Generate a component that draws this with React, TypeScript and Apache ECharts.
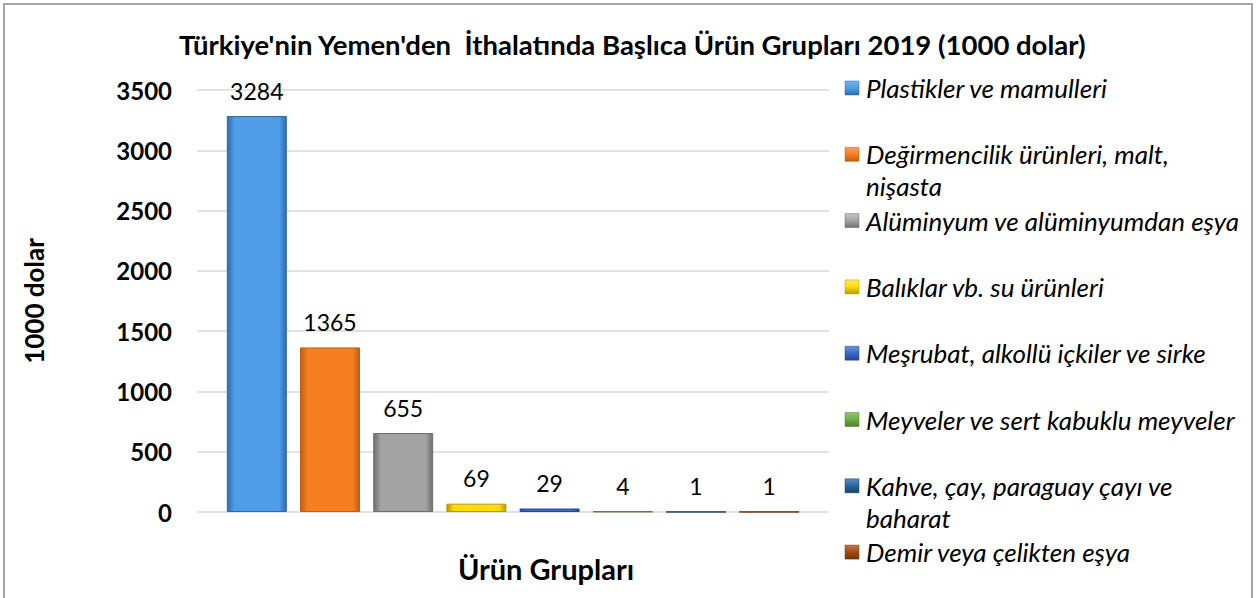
import React, { useEffect, useRef } from "react";
import * as echarts from "echarts";

const TITLE = "Türkiye'nin Yemen'den  İthalatında Başlıca Ürün Grupları 2019 (1000 dolar)";
const Y_NAME = "1000 dolar";
const X_NAME = "Ürün Grupları";
const CATEGORIES = [""];
const SERIES_NAMES = [
  "Plastikler ve mamulleri",
  "Değirmencilik ürünleri, malt, nişasta",
  "Alüminyum ve alüminyumdan eşya",
  "Balıklar vb. su ürünleri",
  "Meşrubat, alkollü içkiler ve sirke",
  "Meyveler ve sert kabuklu meyveler",
  "Kahve, çay, paraguay çayı ve baharat",
  "Demir veya çelikten eşya",
];
const VALUES = [3284, 1365, 655, 69, 29, 4, 1, 1];
const Y_TICKS = { min: 0, max: 3500, interval: 500 };

// [edge, center, light] colours per series
const COLORS = [
  ["#2f69ad", "#4f9de6", "#72b6f0"],
  ["#c25d12", "#f57f20", "#f8a060"],
  ["#6f6f6f", "#a3a3a3", "#c4c4c4"],
  ["#b89a00", "#fbdc0a", "#ffe95a"],
  ["#23479a", "#3a68c6", "#6f93d8"],
  ["#4d7f2c", "#6fae45", "#95c674"],
  ["#17416b", "#2a659c", "#5e8cbc"],
  ["#6f310a", "#a44c12", "#c2774a"],
];

const FONT = "Lato, 'Open Sans', sans-serif";

function grad(c: string[]) {
  return new echarts.graphic.LinearGradient(0, 0, 1, 0, [
    { offset: 0, color: c[0] },
    { offset: 0.12, color: c[1] },
    { offset: 0.5, color: c[1] },
    { offset: 0.88, color: c[1] },
    { offset: 1, color: c[0] },
  ]);
}

function markerGrad(c: string[]) {
  return new echarts.graphic.LinearGradient(0, 0, 0, 1, [
    { offset: 0, color: c[2] },
    { offset: 0.5, color: c[1] },
    { offset: 1, color: c[0] },
  ]);
}

// wrap long legend names before their last word
function wrapName(name: string) {
  if (name.length <= 35) return name;
  const k = name.lastIndexOf(" ");
  return name.slice(0, k) + "\n" + name.slice(k + 1);
}

export default function App() {
  const ref = useRef<HTMLDivElement>(null);
  useEffect(() => {
    document.body.style.margin = "0";
    const chart = echarts.init(ref.current!, null, { renderer: "svg" });

    const legendGraphics: any[] = [];
    SERIES_NAMES.forEach((name, i) => {
      const yc = 88 + i * 66.3;
      legendGraphics.push({
        type: "rect",
        shape: { x: 845, y: yc - 7, width: 14, height: 14 },
        style: { fill: markerGrad(COLORS[i]), stroke: COLORS[i][0], lineWidth: 0.5 },
      });
      legendGraphics.push({
        type: "text",
        x: 866,
        y: yc - 16,
        style: {
          text: wrapName(name),
          lineHeight: 32,
          font: `italic 26px ${FONT}`,
          fill: "#000",
          verticalAlign: "top",
          align: "left",
        },
      });
    });

    chart.setOption({
      animation: false,
      backgroundColor: "#fff",
      title: {
        text: TITLE,
        left: 174,
        top: 25,
        textStyle: { fontFamily: FONT, fontWeight: "bold", fontSize: 27.5, color: "#000" },
      },
      grid: { left: 197, right: 430, top: 90, bottom: 86, containLabel: false },
      xAxis: {
        type: "category",
        data: CATEGORIES,
        axisLine: { show: false },
        axisTick: { show: false },
        axisLabel: { show: false },
      },
      yAxis: {
        type: "value",
        min: Y_TICKS.min,
        max: Y_TICKS.max,
        interval: Y_TICKS.interval,
        name: Y_NAME,
        nameLocation: "middle",
        nameRotate: 90,
        nameGap: 150,
        nameTextStyle: { fontFamily: FONT, fontWeight: "bold", fontSize: 26, color: "#000" },
        axisLine: { show: false },
        axisTick: { show: false },
        axisLabel: {
          fontFamily: FONT,
          fontWeight: "bold",
          fontSize: 24,
          color: "#000",
          margin: 25,
          formatter: (v: number) => String(v),
        },
        splitLine: { lineStyle: { color: "#d9d9d9", width: 1.5 } },
      },
      series: SERIES_NAMES.map((name, i) => ({
        type: "bar",
        name,
        data: [VALUES[i]],
        barWidth: 60,
        barGap: "22%",
        itemStyle: { color: grad(COLORS[i]), borderColor: COLORS[i][0], borderWidth: 1 },
        label: {
          show: true,
          position: "top",
          distance: 14,
          fontFamily: FONT,
          fontSize: 23,
          color: "#000",
        },
      })),
      graphic: [
        {
          type: "rect",
          shape: { x: 4, y: 4, width: 1248, height: 610 },
          style: { fill: "none", stroke: "#a6a6a6", lineWidth: 2 },
          silent: true,
        },
        {
          type: "text",
          x: 546,
          y: 568,
          style: {
            text: X_NAME,
            font: `bold 29px ${FONT}`,
            fill: "#000",
            align: "center",
            verticalAlign: "middle",
          },
        },
        ...legendGraphics,
      ],
    });
    return () => chart.dispose();
  }, []);
  return <div ref={ref} style={{ width: 1259, height: 598 }} />;
}
